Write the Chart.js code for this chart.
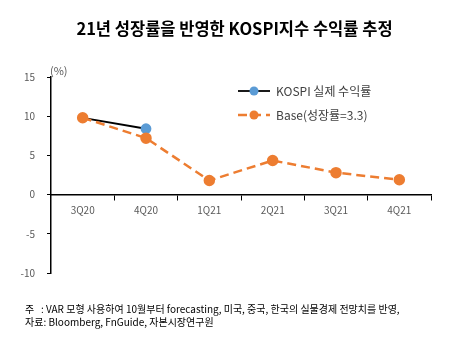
<!DOCTYPE html>
<html>
<head>
<meta charset="utf-8">
<script src="https://cdn.jsdelivr.net/npm/chart.js@4"></script>
<style>
  body { margin: 0; background: #fff; }
  #wrap { position: relative; width: 469px; height: 349px; font-family: "Noto Sans CJK KR", "Noto Sans", sans-serif; }
  #title { position: absolute; left: 0; width: 469px; top: 16px; text-align: center; font-size: 16.5px; font-weight: bold; color: #000; }
  #unit { position: absolute; left: 50px; top: 62px; font-size: 11px; color: #595959; }
  #note { position: absolute; left: 25px; top: 302px; font-size: 10px; line-height: 13px; color: #000; white-space: nowrap; }
  canvas { position: absolute; left: 0; top: 0; }
</style>
</head>
<body>
<div id="wrap">
  <canvas id="kospi" width="469" height="349"></canvas>
  <div id="title">21년 성장률을 반영한 KOSPI지수 수익률 추정</div>
  <div id="unit">(%)</div>
  <div id="note">주&nbsp;&nbsp;&nbsp;: VAR 모형 사용하여 10월부터 forecasting, 미국, 중국, 한국의 실물경제 전망치를 반영,<br>자료: Bloomberg, FnGuide, 자본시장연구원</div>
</div>
<script>
const quarters = ['3Q20', '4Q20', '1Q21', '2Q21', '3Q21', '4Q21'];
const kospiActual = [9.8, 8.4, null, null, null, null];
const baseEstimate = [9.8, 7.2, 1.8, 4.35, 2.8, 1.9];
const yTicks = [-10, -5, 0, 5, 10, 15];

const ORANGE = '#ED7D31';
const BLUE = '#5B9BD5';

// legend drawn inside the plot, top right
const sideLegend = {
  id: 'sideLegend',
  afterDraw(chart) {
    const ctx = chart.ctx;
    const rows = [
      { y: 91, ds: chart.data.datasets[0] },
      { y: 115, ds: chart.data.datasets[1] }
    ];
    ctx.save();
    rows.forEach(r => {
      ctx.beginPath();
      ctx.strokeStyle = r.ds.borderColor;
      ctx.lineWidth = r.ds.borderWidth;
      ctx.setLineDash(r.ds.borderDash || []);
      ctx.moveTo(238, r.y);
      ctx.lineTo(270, r.y);
      ctx.stroke();
      ctx.setLineDash([]);
      ctx.beginPath();
      ctx.fillStyle = r.ds.pointBackgroundColor;
      ctx.arc(254, r.y, 4.5, 0, Math.PI * 2);
      ctx.fill();
      ctx.fillStyle = '#404040';
      ctx.font = '12px "Noto Sans CJK KR", sans-serif';
      ctx.textBaseline = 'middle';
      ctx.fillText(r.ds.label, 276, r.y);
    });
    ctx.restore();
  }
};

new Chart(document.getElementById('kospi'), {
  type: 'line',
  data: {
    labels: quarters,
    datasets: [{
      label: 'KOSPI 실제 수익률',
      data: kospiActual,
      borderColor: '#000',
      borderWidth: 1.8,
      pointBackgroundColor: BLUE,
      pointBorderColor: BLUE,
      pointRadius: [0, 4.5, 0, 0, 0, 0],
      order: 2
    }, {
      label: 'Base(성장률=3.3)',
      data: baseEstimate,
      borderColor: ORANGE,
      borderWidth: 2.5,
      borderDash: [9, 5],
      pointBackgroundColor: ORANGE,
      pointBorderColor: ORANGE,
      pointRadius: 4.5,
      order: 1
    }]
  },
  options: {
    responsive: false,
    animation: false,
    layout: { padding: { top: 77, right: 38, bottom: 76, left: 0 } },
    plugins: { legend: { display: false }, tooltip: { enabled: false } },
    scales: {
      x: {
        position: { y: 0 },
        offset: true,
        grid: { offset: true, drawOnChartArea: false, drawTicks: true, tickLength: 5, color: '#000' },
        border: { color: '#000', width: 1.5 },
        ticks: { color: '#595959', font: { size: 10, family: '"Noto Sans CJK KR", sans-serif' }, padding: 5 }
      },
      y: {
        min: -10,
        max: 15,
        afterBuildTicks(s) { s.ticks = yTicks.map(v => ({ value: v })); },
        afterFit(s) { s.width = 51; },
        grid: { drawOnChartArea: false, drawTicks: true, tickLength: 4, color: '#000' },
        border: { color: '#000', width: 1.5 },
        ticks: { color: '#595959', font: { size: 10, family: '"Noto Sans CJK KR", sans-serif' }, padding: 12 }
      }
    }
  },
  plugins: [sideLegend]
});
</script>
</body>
</html>
